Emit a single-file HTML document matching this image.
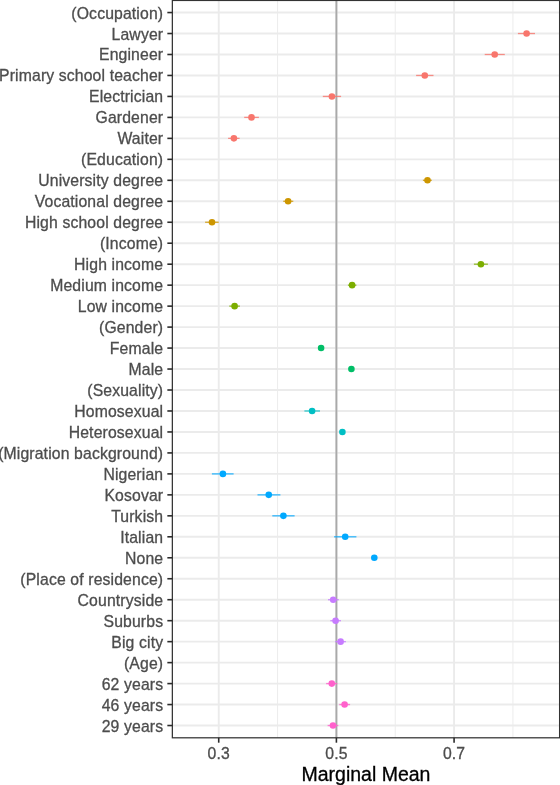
<!DOCTYPE html><html><head><meta charset="utf-8"><style>html,body{margin:0;padding:0;background:#fff;}svg{display:block;}text{font-family:"Liberation Sans",sans-serif;} svg{will-change:transform;filter:blur(0.35px);}</style></head><body>
<svg width="560" height="785" viewBox="0 0 560 785">
<rect x="0" y="0" width="560" height="785" fill="#fff"/>
<line x1="277.56" y1="0.45" x2="277.56" y2="737.8" stroke="#EBEBEB" stroke-width="0.95"/>
<line x1="395.24" y1="0.45" x2="395.24" y2="737.8" stroke="#EBEBEB" stroke-width="0.95"/>
<line x1="512.92" y1="0.45" x2="512.92" y2="737.8" stroke="#EBEBEB" stroke-width="0.95"/>
<line x1="218.72" y1="0.45" x2="218.72" y2="737.8" stroke="#EBEBEB" stroke-width="1.9"/>
<line x1="336.40" y1="0.45" x2="336.40" y2="737.8" stroke="#EBEBEB" stroke-width="1.9"/>
<line x1="454.08" y1="0.45" x2="454.08" y2="737.8" stroke="#EBEBEB" stroke-width="1.9"/>
<line x1="172.35" y1="12.55" x2="559.6" y2="12.55" stroke="#EBEBEB" stroke-width="1.9"/>
<line x1="172.35" y1="33.52" x2="559.6" y2="33.52" stroke="#EBEBEB" stroke-width="1.9"/>
<line x1="172.35" y1="54.49" x2="559.6" y2="54.49" stroke="#EBEBEB" stroke-width="1.9"/>
<line x1="172.35" y1="75.46" x2="559.6" y2="75.46" stroke="#EBEBEB" stroke-width="1.9"/>
<line x1="172.35" y1="96.43" x2="559.6" y2="96.43" stroke="#EBEBEB" stroke-width="1.9"/>
<line x1="172.35" y1="117.40" x2="559.6" y2="117.40" stroke="#EBEBEB" stroke-width="1.9"/>
<line x1="172.35" y1="138.37" x2="559.6" y2="138.37" stroke="#EBEBEB" stroke-width="1.9"/>
<line x1="172.35" y1="159.34" x2="559.6" y2="159.34" stroke="#EBEBEB" stroke-width="1.9"/>
<line x1="172.35" y1="180.31" x2="559.6" y2="180.31" stroke="#EBEBEB" stroke-width="1.9"/>
<line x1="172.35" y1="201.28" x2="559.6" y2="201.28" stroke="#EBEBEB" stroke-width="1.9"/>
<line x1="172.35" y1="222.25" x2="559.6" y2="222.25" stroke="#EBEBEB" stroke-width="1.9"/>
<line x1="172.35" y1="243.22" x2="559.6" y2="243.22" stroke="#EBEBEB" stroke-width="1.9"/>
<line x1="172.35" y1="264.19" x2="559.6" y2="264.19" stroke="#EBEBEB" stroke-width="1.9"/>
<line x1="172.35" y1="285.16" x2="559.6" y2="285.16" stroke="#EBEBEB" stroke-width="1.9"/>
<line x1="172.35" y1="306.13" x2="559.6" y2="306.13" stroke="#EBEBEB" stroke-width="1.9"/>
<line x1="172.35" y1="327.10" x2="559.6" y2="327.10" stroke="#EBEBEB" stroke-width="1.9"/>
<line x1="172.35" y1="348.07" x2="559.6" y2="348.07" stroke="#EBEBEB" stroke-width="1.9"/>
<line x1="172.35" y1="369.04" x2="559.6" y2="369.04" stroke="#EBEBEB" stroke-width="1.9"/>
<line x1="172.35" y1="390.01" x2="559.6" y2="390.01" stroke="#EBEBEB" stroke-width="1.9"/>
<line x1="172.35" y1="410.98" x2="559.6" y2="410.98" stroke="#EBEBEB" stroke-width="1.9"/>
<line x1="172.35" y1="431.95" x2="559.6" y2="431.95" stroke="#EBEBEB" stroke-width="1.9"/>
<line x1="172.35" y1="452.92" x2="559.6" y2="452.92" stroke="#EBEBEB" stroke-width="1.9"/>
<line x1="172.35" y1="473.89" x2="559.6" y2="473.89" stroke="#EBEBEB" stroke-width="1.9"/>
<line x1="172.35" y1="494.86" x2="559.6" y2="494.86" stroke="#EBEBEB" stroke-width="1.9"/>
<line x1="172.35" y1="515.83" x2="559.6" y2="515.83" stroke="#EBEBEB" stroke-width="1.9"/>
<line x1="172.35" y1="536.80" x2="559.6" y2="536.80" stroke="#EBEBEB" stroke-width="1.9"/>
<line x1="172.35" y1="557.77" x2="559.6" y2="557.77" stroke="#EBEBEB" stroke-width="1.9"/>
<line x1="172.35" y1="578.74" x2="559.6" y2="578.74" stroke="#EBEBEB" stroke-width="1.9"/>
<line x1="172.35" y1="599.71" x2="559.6" y2="599.71" stroke="#EBEBEB" stroke-width="1.9"/>
<line x1="172.35" y1="620.68" x2="559.6" y2="620.68" stroke="#EBEBEB" stroke-width="1.9"/>
<line x1="172.35" y1="641.65" x2="559.6" y2="641.65" stroke="#EBEBEB" stroke-width="1.9"/>
<line x1="172.35" y1="662.62" x2="559.6" y2="662.62" stroke="#EBEBEB" stroke-width="1.9"/>
<line x1="172.35" y1="683.59" x2="559.6" y2="683.59" stroke="#EBEBEB" stroke-width="1.9"/>
<line x1="172.35" y1="704.56" x2="559.6" y2="704.56" stroke="#EBEBEB" stroke-width="1.9"/>
<line x1="172.35" y1="725.53" x2="559.6" y2="725.53" stroke="#EBEBEB" stroke-width="1.9"/>
<line x1="336.40" y1="0.45" x2="336.40" y2="737.8" stroke="#A9A9A9" stroke-width="1.9"/>
<line x1="517.9" y1="33.52" x2="535.0" y2="33.52" stroke="#F8766D" stroke-width="1.3" stroke-opacity="0.8"/>
<line x1="484.7" y1="54.49" x2="504.8" y2="54.49" stroke="#F8766D" stroke-width="1.3" stroke-opacity="0.8"/>
<line x1="416.1" y1="75.46" x2="433.5" y2="75.46" stroke="#F8766D" stroke-width="1.3" stroke-opacity="0.8"/>
<line x1="322.8" y1="96.43" x2="341.1" y2="96.43" stroke="#F8766D" stroke-width="1.3" stroke-opacity="0.8"/>
<line x1="244.2" y1="117.40" x2="258.9" y2="117.40" stroke="#F8766D" stroke-width="1.3" stroke-opacity="0.8"/>
<line x1="228.1" y1="138.37" x2="239.6" y2="138.37" stroke="#F8766D" stroke-width="1.3" stroke-opacity="0.8"/>
<line x1="422.9" y1="180.31" x2="431.8" y2="180.31" stroke="#CD9600" stroke-width="1.3" stroke-opacity="0.8"/>
<line x1="283.2" y1="201.28" x2="293.3" y2="201.28" stroke="#CD9600" stroke-width="1.3" stroke-opacity="0.8"/>
<line x1="205.1" y1="222.25" x2="218.7" y2="222.25" stroke="#CD9600" stroke-width="1.3" stroke-opacity="0.8"/>
<line x1="473.9" y1="264.19" x2="487.9" y2="264.19" stroke="#7CAE00" stroke-width="1.3" stroke-opacity="0.8"/>
<line x1="347.9" y1="285.16" x2="356.4" y2="285.16" stroke="#7CAE00" stroke-width="1.3" stroke-opacity="0.8"/>
<line x1="229.3" y1="306.13" x2="239.9" y2="306.13" stroke="#7CAE00" stroke-width="1.3" stroke-opacity="0.8"/>
<line x1="318.5" y1="348.07" x2="323.7" y2="348.07" stroke="#00BE67" stroke-width="1.3" stroke-opacity="0.8"/>
<line x1="348.8" y1="369.04" x2="354.0" y2="369.04" stroke="#00BE67" stroke-width="1.3" stroke-opacity="0.8"/>
<line x1="304.4" y1="410.98" x2="320.0" y2="410.98" stroke="#00BFC4" stroke-width="1.3" stroke-opacity="0.8"/>
<line x1="339.8" y1="431.95" x2="345.0" y2="431.95" stroke="#00BFC4" stroke-width="1.3" stroke-opacity="0.8"/>
<line x1="211.9" y1="473.89" x2="233.6" y2="473.89" stroke="#00A9FF" stroke-width="1.3" stroke-opacity="0.8"/>
<line x1="257.5" y1="494.86" x2="280.4" y2="494.86" stroke="#00A9FF" stroke-width="1.3" stroke-opacity="0.8"/>
<line x1="272.3" y1="515.83" x2="294.6" y2="515.83" stroke="#00A9FF" stroke-width="1.3" stroke-opacity="0.8"/>
<line x1="334.1" y1="536.80" x2="356.4" y2="536.80" stroke="#00A9FF" stroke-width="1.3" stroke-opacity="0.8"/>
<line x1="371.7" y1="557.77" x2="376.9" y2="557.77" stroke="#00A9FF" stroke-width="1.3" stroke-opacity="0.8"/>
<line x1="328.0" y1="599.71" x2="338.8" y2="599.71" stroke="#C77CFF" stroke-width="1.3" stroke-opacity="0.8"/>
<line x1="330.3" y1="620.68" x2="341.0" y2="620.68" stroke="#C77CFF" stroke-width="1.3" stroke-opacity="0.8"/>
<line x1="335.2" y1="641.65" x2="345.9" y2="641.65" stroke="#C77CFF" stroke-width="1.3" stroke-opacity="0.8"/>
<line x1="326.1" y1="683.59" x2="337.25" y2="683.59" stroke="#FF61CC" stroke-width="1.3" stroke-opacity="0.8"/>
<line x1="339.2" y1="704.56" x2="350.1" y2="704.56" stroke="#FF61CC" stroke-width="1.3" stroke-opacity="0.8"/>
<line x1="327.6" y1="725.53" x2="338.3" y2="725.53" stroke="#FF61CC" stroke-width="1.3" stroke-opacity="0.8"/>
<circle cx="526.6" cy="33.52" r="3.3" fill="#F8766D"/>
<circle cx="494.7" cy="54.49" r="3.3" fill="#F8766D"/>
<circle cx="424.8" cy="75.46" r="3.3" fill="#F8766D"/>
<circle cx="331.9" cy="96.43" r="3.3" fill="#F8766D"/>
<circle cx="251.5" cy="117.40" r="3.3" fill="#F8766D"/>
<circle cx="233.9" cy="138.37" r="3.3" fill="#F8766D"/>
<circle cx="427.5" cy="180.31" r="3.3" fill="#CD9600"/>
<circle cx="288.1" cy="201.28" r="3.3" fill="#CD9600"/>
<circle cx="212.0" cy="222.25" r="3.3" fill="#CD9600"/>
<circle cx="480.9" cy="264.19" r="3.3" fill="#7CAE00"/>
<circle cx="352.1" cy="285.16" r="3.3" fill="#7CAE00"/>
<circle cx="234.6" cy="306.13" r="3.3" fill="#7CAE00"/>
<circle cx="321.1" cy="348.07" r="3.3" fill="#00BE67"/>
<circle cx="351.4" cy="369.04" r="3.3" fill="#00BE67"/>
<circle cx="312.1" cy="410.98" r="3.3" fill="#00BFC4"/>
<circle cx="342.4" cy="431.95" r="3.3" fill="#00BFC4"/>
<circle cx="222.9" cy="473.89" r="3.3" fill="#00A9FF"/>
<circle cx="268.75" cy="494.86" r="3.3" fill="#00A9FF"/>
<circle cx="283.4" cy="515.83" r="3.3" fill="#00A9FF"/>
<circle cx="345.2" cy="536.80" r="3.3" fill="#00A9FF"/>
<circle cx="374.3" cy="557.77" r="3.3" fill="#00A9FF"/>
<circle cx="333.2" cy="599.71" r="3.3" fill="#C77CFF"/>
<circle cx="335.6" cy="620.68" r="3.3" fill="#C77CFF"/>
<circle cx="340.6" cy="641.65" r="3.3" fill="#C77CFF"/>
<circle cx="331.8" cy="683.59" r="3.3" fill="#FF61CC"/>
<circle cx="344.6" cy="704.56" r="3.3" fill="#FF61CC"/>
<circle cx="333.0" cy="725.53" r="3.3" fill="#FF61CC"/>
<rect x="172.35" y="0.45" width="387.25" height="737.35" fill="none" stroke="#333333" stroke-width="1.25"/>
<line x1="167.35" y1="12.55" x2="172.35" y2="12.55" stroke="#2b2b2b" stroke-width="1.6"/>
<text x="163.2" y="18.55" font-size="15.75" letter-spacing="0.14" fill="#4D4D4D" stroke="#4D4D4D" stroke-width="0.3" text-anchor="end">(Occupation)</text>
<line x1="167.35" y1="33.52" x2="172.35" y2="33.52" stroke="#2b2b2b" stroke-width="1.6"/>
<text x="163.2" y="39.52" font-size="15.75" letter-spacing="0.14" fill="#4D4D4D" stroke="#4D4D4D" stroke-width="0.3" text-anchor="end">Lawyer</text>
<line x1="167.35" y1="54.49" x2="172.35" y2="54.49" stroke="#2b2b2b" stroke-width="1.6"/>
<text x="163.2" y="60.49" font-size="15.75" letter-spacing="0.14" fill="#4D4D4D" stroke="#4D4D4D" stroke-width="0.3" text-anchor="end">Engineer</text>
<line x1="167.35" y1="75.46" x2="172.35" y2="75.46" stroke="#2b2b2b" stroke-width="1.6"/>
<text x="163.2" y="81.46" font-size="15.75" letter-spacing="0.14" fill="#4D4D4D" stroke="#4D4D4D" stroke-width="0.3" text-anchor="end">Primary school teacher</text>
<line x1="167.35" y1="96.43" x2="172.35" y2="96.43" stroke="#2b2b2b" stroke-width="1.6"/>
<text x="163.2" y="102.43" font-size="15.75" letter-spacing="0.14" fill="#4D4D4D" stroke="#4D4D4D" stroke-width="0.3" text-anchor="end">Electrician</text>
<line x1="167.35" y1="117.40" x2="172.35" y2="117.40" stroke="#2b2b2b" stroke-width="1.6"/>
<text x="163.2" y="123.40" font-size="15.75" letter-spacing="0.14" fill="#4D4D4D" stroke="#4D4D4D" stroke-width="0.3" text-anchor="end">Gardener</text>
<line x1="167.35" y1="138.37" x2="172.35" y2="138.37" stroke="#2b2b2b" stroke-width="1.6"/>
<text x="163.2" y="144.37" font-size="15.75" letter-spacing="0.14" fill="#4D4D4D" stroke="#4D4D4D" stroke-width="0.3" text-anchor="end">Waiter</text>
<line x1="167.35" y1="159.34" x2="172.35" y2="159.34" stroke="#2b2b2b" stroke-width="1.6"/>
<text x="163.2" y="165.34" font-size="15.75" letter-spacing="0.14" fill="#4D4D4D" stroke="#4D4D4D" stroke-width="0.3" text-anchor="end">(Education)</text>
<line x1="167.35" y1="180.31" x2="172.35" y2="180.31" stroke="#2b2b2b" stroke-width="1.6"/>
<text x="163.2" y="186.31" font-size="15.75" letter-spacing="0.14" fill="#4D4D4D" stroke="#4D4D4D" stroke-width="0.3" text-anchor="end">University degree</text>
<line x1="167.35" y1="201.28" x2="172.35" y2="201.28" stroke="#2b2b2b" stroke-width="1.6"/>
<text x="163.2" y="207.28" font-size="15.75" letter-spacing="0.14" fill="#4D4D4D" stroke="#4D4D4D" stroke-width="0.3" text-anchor="end">Vocational degree</text>
<line x1="167.35" y1="222.25" x2="172.35" y2="222.25" stroke="#2b2b2b" stroke-width="1.6"/>
<text x="163.2" y="228.25" font-size="15.75" letter-spacing="0.14" fill="#4D4D4D" stroke="#4D4D4D" stroke-width="0.3" text-anchor="end">High school degree</text>
<line x1="167.35" y1="243.22" x2="172.35" y2="243.22" stroke="#2b2b2b" stroke-width="1.6"/>
<text x="163.2" y="249.22" font-size="15.75" letter-spacing="0.14" fill="#4D4D4D" stroke="#4D4D4D" stroke-width="0.3" text-anchor="end">(Income)</text>
<line x1="167.35" y1="264.19" x2="172.35" y2="264.19" stroke="#2b2b2b" stroke-width="1.6"/>
<text x="163.2" y="270.19" font-size="15.75" letter-spacing="0.14" fill="#4D4D4D" stroke="#4D4D4D" stroke-width="0.3" text-anchor="end">High income</text>
<line x1="167.35" y1="285.16" x2="172.35" y2="285.16" stroke="#2b2b2b" stroke-width="1.6"/>
<text x="163.2" y="291.16" font-size="15.75" letter-spacing="0.14" fill="#4D4D4D" stroke="#4D4D4D" stroke-width="0.3" text-anchor="end">Medium income</text>
<line x1="167.35" y1="306.13" x2="172.35" y2="306.13" stroke="#2b2b2b" stroke-width="1.6"/>
<text x="163.2" y="312.13" font-size="15.75" letter-spacing="0.14" fill="#4D4D4D" stroke="#4D4D4D" stroke-width="0.3" text-anchor="end">Low income</text>
<line x1="167.35" y1="327.10" x2="172.35" y2="327.10" stroke="#2b2b2b" stroke-width="1.6"/>
<text x="163.2" y="333.10" font-size="15.75" letter-spacing="0.14" fill="#4D4D4D" stroke="#4D4D4D" stroke-width="0.3" text-anchor="end">(Gender)</text>
<line x1="167.35" y1="348.07" x2="172.35" y2="348.07" stroke="#2b2b2b" stroke-width="1.6"/>
<text x="163.2" y="354.07" font-size="15.75" letter-spacing="0.14" fill="#4D4D4D" stroke="#4D4D4D" stroke-width="0.3" text-anchor="end">Female</text>
<line x1="167.35" y1="369.04" x2="172.35" y2="369.04" stroke="#2b2b2b" stroke-width="1.6"/>
<text x="163.2" y="375.04" font-size="15.75" letter-spacing="0.14" fill="#4D4D4D" stroke="#4D4D4D" stroke-width="0.3" text-anchor="end">Male</text>
<line x1="167.35" y1="390.01" x2="172.35" y2="390.01" stroke="#2b2b2b" stroke-width="1.6"/>
<text x="163.2" y="396.01" font-size="15.75" letter-spacing="0.14" fill="#4D4D4D" stroke="#4D4D4D" stroke-width="0.3" text-anchor="end">(Sexuality)</text>
<line x1="167.35" y1="410.98" x2="172.35" y2="410.98" stroke="#2b2b2b" stroke-width="1.6"/>
<text x="163.2" y="416.98" font-size="15.75" letter-spacing="0.14" fill="#4D4D4D" stroke="#4D4D4D" stroke-width="0.3" text-anchor="end">Homosexual</text>
<line x1="167.35" y1="431.95" x2="172.35" y2="431.95" stroke="#2b2b2b" stroke-width="1.6"/>
<text x="163.2" y="437.95" font-size="15.75" letter-spacing="0.14" fill="#4D4D4D" stroke="#4D4D4D" stroke-width="0.3" text-anchor="end">Heterosexual</text>
<line x1="167.35" y1="452.92" x2="172.35" y2="452.92" stroke="#2b2b2b" stroke-width="1.6"/>
<text x="163.2" y="458.92" font-size="15.75" letter-spacing="0.14" fill="#4D4D4D" stroke="#4D4D4D" stroke-width="0.3" text-anchor="end">(Migration background)</text>
<line x1="167.35" y1="473.89" x2="172.35" y2="473.89" stroke="#2b2b2b" stroke-width="1.6"/>
<text x="163.2" y="479.89" font-size="15.75" letter-spacing="0.14" fill="#4D4D4D" stroke="#4D4D4D" stroke-width="0.3" text-anchor="end">Nigerian</text>
<line x1="167.35" y1="494.86" x2="172.35" y2="494.86" stroke="#2b2b2b" stroke-width="1.6"/>
<text x="163.2" y="500.86" font-size="15.75" letter-spacing="0.14" fill="#4D4D4D" stroke="#4D4D4D" stroke-width="0.3" text-anchor="end">Kosovar</text>
<line x1="167.35" y1="515.83" x2="172.35" y2="515.83" stroke="#2b2b2b" stroke-width="1.6"/>
<text x="163.2" y="521.83" font-size="15.75" letter-spacing="0.14" fill="#4D4D4D" stroke="#4D4D4D" stroke-width="0.3" text-anchor="end">Turkish</text>
<line x1="167.35" y1="536.80" x2="172.35" y2="536.80" stroke="#2b2b2b" stroke-width="1.6"/>
<text x="163.2" y="542.80" font-size="15.75" letter-spacing="0.14" fill="#4D4D4D" stroke="#4D4D4D" stroke-width="0.3" text-anchor="end">Italian</text>
<line x1="167.35" y1="557.77" x2="172.35" y2="557.77" stroke="#2b2b2b" stroke-width="1.6"/>
<text x="163.2" y="563.77" font-size="15.75" letter-spacing="0.14" fill="#4D4D4D" stroke="#4D4D4D" stroke-width="0.3" text-anchor="end">None</text>
<line x1="167.35" y1="578.74" x2="172.35" y2="578.74" stroke="#2b2b2b" stroke-width="1.6"/>
<text x="163.2" y="584.74" font-size="15.75" letter-spacing="0.14" fill="#4D4D4D" stroke="#4D4D4D" stroke-width="0.3" text-anchor="end">(Place of residence)</text>
<line x1="167.35" y1="599.71" x2="172.35" y2="599.71" stroke="#2b2b2b" stroke-width="1.6"/>
<text x="163.2" y="605.71" font-size="15.75" letter-spacing="0.14" fill="#4D4D4D" stroke="#4D4D4D" stroke-width="0.3" text-anchor="end">Countryside</text>
<line x1="167.35" y1="620.68" x2="172.35" y2="620.68" stroke="#2b2b2b" stroke-width="1.6"/>
<text x="163.2" y="626.68" font-size="15.75" letter-spacing="0.14" fill="#4D4D4D" stroke="#4D4D4D" stroke-width="0.3" text-anchor="end">Suburbs</text>
<line x1="167.35" y1="641.65" x2="172.35" y2="641.65" stroke="#2b2b2b" stroke-width="1.6"/>
<text x="163.2" y="647.65" font-size="15.75" letter-spacing="0.14" fill="#4D4D4D" stroke="#4D4D4D" stroke-width="0.3" text-anchor="end">Big city</text>
<line x1="167.35" y1="662.62" x2="172.35" y2="662.62" stroke="#2b2b2b" stroke-width="1.6"/>
<text x="163.2" y="668.62" font-size="15.75" letter-spacing="0.14" fill="#4D4D4D" stroke="#4D4D4D" stroke-width="0.3" text-anchor="end">(Age)</text>
<line x1="167.35" y1="683.59" x2="172.35" y2="683.59" stroke="#2b2b2b" stroke-width="1.6"/>
<text x="163.2" y="689.59" font-size="15.75" letter-spacing="0.14" fill="#4D4D4D" stroke="#4D4D4D" stroke-width="0.3" text-anchor="end">62 years</text>
<line x1="167.35" y1="704.56" x2="172.35" y2="704.56" stroke="#2b2b2b" stroke-width="1.6"/>
<text x="163.2" y="710.56" font-size="15.75" letter-spacing="0.14" fill="#4D4D4D" stroke="#4D4D4D" stroke-width="0.3" text-anchor="end">46 years</text>
<line x1="167.35" y1="725.53" x2="172.35" y2="725.53" stroke="#2b2b2b" stroke-width="1.6"/>
<text x="163.2" y="731.53" font-size="15.75" letter-spacing="0.14" fill="#4D4D4D" stroke="#4D4D4D" stroke-width="0.3" text-anchor="end">29 years</text>
<line x1="218.72" y1="737.8" x2="218.72" y2="742.70" stroke="#2b2b2b" stroke-width="1.6"/>
<text x="218.72" y="758.6" font-size="15.75" letter-spacing="0.14" fill="#4D4D4D" stroke="#4D4D4D" stroke-width="0.3" text-anchor="middle">0.3</text>
<line x1="336.40" y1="737.8" x2="336.40" y2="742.70" stroke="#2b2b2b" stroke-width="1.6"/>
<text x="336.40" y="758.6" font-size="15.75" letter-spacing="0.14" fill="#4D4D4D" stroke="#4D4D4D" stroke-width="0.3" text-anchor="middle">0.5</text>
<line x1="454.08" y1="737.8" x2="454.08" y2="742.70" stroke="#2b2b2b" stroke-width="1.6"/>
<text x="454.08" y="758.6" font-size="15.75" letter-spacing="0.14" fill="#4D4D4D" stroke="#4D4D4D" stroke-width="0.3" text-anchor="middle">0.7</text>
<text x="365.98" y="780.6" font-size="19.5" fill="#000" stroke="#000" stroke-width="0.3" text-anchor="middle">Marginal Mean</text>
</svg></body></html>
